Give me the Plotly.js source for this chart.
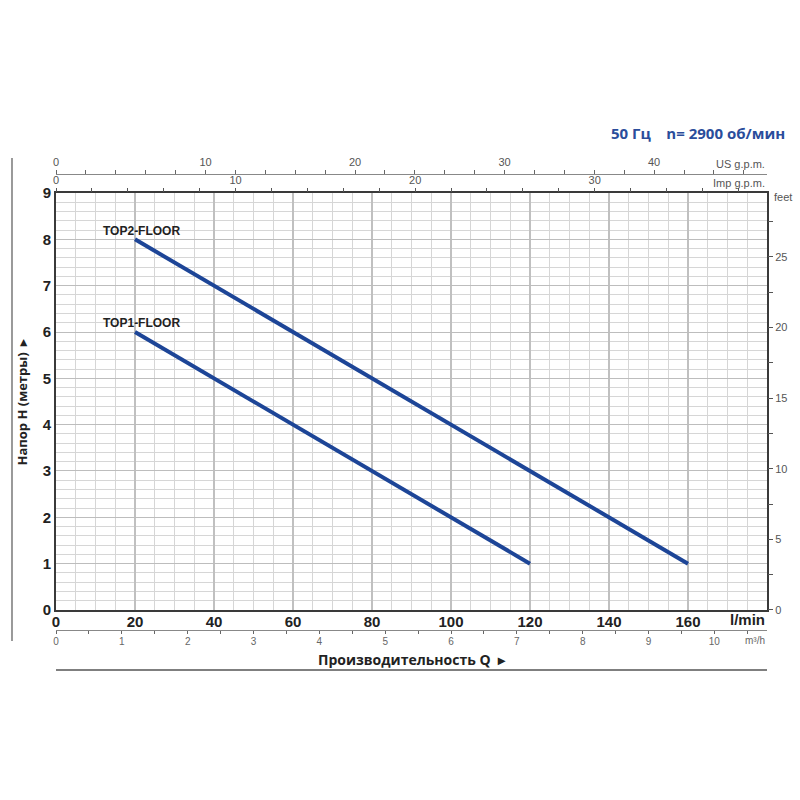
<!DOCTYPE html>
<html>
<head>
<meta charset="utf-8">
<script src="https://cdn.plot.ly/plotly-3.0.1.min.js"></script>
<style>html,body{margin:0;padding:0;background:#fff}#chart{width:800px;height:800px}</style>
</head>
<body>
<div id="chart"></div>
<script>
// ---- data ----
const seriesNames = ["TOP2-FLOOR", "TOP1-FLOOR"];
const top2Q = [20, 160];   // l/min
const top2H = [8, 1];      // m
const top1Q = [20, 120];
const top1H = [6, 1];
const qTicks = [0, 20, 40, 60, 80, 100, 120, 140, 160];
const hTicks = [0, 1, 2, 3, 4, 5, 6, 7, 8, 9];
const qMax = 180, hMax = 9;
const labelPos = [[11.4, 8.17], [11.4, 6.19]];

// ---- conversions ----
const US_GPM = 3.78541, IMP_GPM = 4.54609, M3H = 0.06, FT = 0.3048;

const narrow = "Liberation Sans Narrow, Arial Narrow, Liberation Sans, Arial, sans-serif";
const blue = "#1d4597";

const traces = [
  {x: top2Q, y: top2H, name: seriesNames[0], mode: "lines", line: {color: blue, width: 4}, hoverinfo: "skip"},
  {x: top1Q, y: top1H, name: seriesNames[1], mode: "lines", line: {color: blue, width: 4}, hoverinfo: "skip"},
  {x: [], y: [], xaxis: "x2", yaxis: "y", hoverinfo: "skip"},
  {x: [], y: [], xaxis: "x3", yaxis: "y", hoverinfo: "skip"},
  {x: [], y: [], xaxis: "x4", yaxis: "y", hoverinfo: "skip"},
  {x: [], y: [], xaxis: "x", yaxis: "y2", hoverinfo: "skip"}
];

const smallFont = {family: narrow, size: 11, color: "#555"};

const layout = {
  width: 800, height: 800,
  margin: {l: 56, r: 33, t: 174, b: 170},
  paper_bgcolor: "#fff", plot_bgcolor: "#fff",
  showlegend: false,
  xaxis: {
    range: [0, qMax], domain: [0, 1], anchor: "y",
    tickmode: "array", tickvals: qTicks, ticktext: qTicks.map(String),
    ticks: "", ticklabelstandoff: -3,
    showline: true, mirror: true, linecolor: "#3a3a3a", linewidth: 2,
    showgrid: true, gridcolor: "#c0c0c0", gridwidth: 2,
    minor: {dtick: 5, tick0: 0, showgrid: true, gridcolor: "#d6d6d6", gridwidth: 1},
    tickfont: {family: narrow, size: 15, color: "#222", weight: "bold"},
    zeroline: false, fixedrange: true
  },
  yaxis: {
    range: [0, hMax], domain: [0.0439, 0.9583], anchor: "x",
    tickmode: "array", tickvals: hTicks, ticktext: hTicks.map(String),
    ticks: "", showline: true, mirror: true, linecolor: "#3a3a3a", linewidth: 2,
    showgrid: true, gridcolor: "#bdbdbd", gridwidth: 1,
    minor: {dtick: 0.2, tick0: 0, showgrid: true, gridcolor: "#d6d6d6", gridwidth: 1},
    tickfont: {family: narrow, size: 15, color: "#222", weight: "bold"},
    zeroline: false, fixedrange: true
  },
  xaxis2: { // Imp g.p.m.
    range: [0, qMax / IMP_GPM], overlaying: "x", anchor: "y", side: "top",
    dtick: 10, tick0: 0, ticks: "outside", ticklen: 4, tickcolor: "#555",
    minor: {dtick: 2, ticks: "outside", ticklen: 4, tickcolor: "#555"},
    showline: false, showgrid: false, zeroline: false,
    tickfont: smallFont, fixedrange: true
  },
  xaxis3: { // US g.p.m.
    range: [0, qMax / US_GPM], overlaying: "x", anchor: "free", position: 1, side: "top",
    dtick: 10, tick0: 0, ticks: "outside", ticklen: 4, tickcolor: "#666",
    minor: {dtick: 2, ticks: "outside", ticklen: 4, tickcolor: "#666"},
    showline: true, linecolor: "#888", linewidth: 1, showgrid: false, zeroline: false,
    tickfont: smallFont, fixedrange: true
  },
  xaxis4: { // m3/h
    range: [0, qMax * M3H], overlaying: "x", anchor: "free", position: 0, side: "bottom",
    dtick: 1, tick0: 0, ticks: "outside", ticklen: 3, tickcolor: "#666", ticklabelstandoff: -1,
    minor: {dtick: 0.5, ticks: "outside", ticklen: 3, tickcolor: "#666"},
    showline: true, linecolor: "#888", linewidth: 1, showgrid: false, zeroline: false,
    tickfont: {family: narrow, size: 10, color: "#666"}, fixedrange: true
  },
  yaxis2: { // feet
    range: [0, hMax / FT], overlaying: "y", anchor: "x", side: "right",
    dtick: 5, tick0: 0, ticks: "outside", ticklen: 5, tickcolor: "#555",
    minor: {dtick: 2.5, ticks: "outside", ticklen: 5, tickcolor: "#555"},
    showline: false, showgrid: false, zeroline: false,
    tickfont: smallFont, fixedrange: true
  },
  shapes: [
    {type: "line", xref: "paper", yref: "paper", x0: 0, x1: 1, y0: -0.0877, y1: -0.0877,
     line: {color: "#555", width: 1.5}},
    {type: "line", xref: "paper", yref: "paper", x0: -0.0619, x1: -0.0619, y0: 1.035, y1: -0.024,
     line: {color: "#999", width: 2}}
  ],
  annotations: [
    {text: "50 Гц&nbsp;&nbsp;&nbsp;&nbsp;n= 2900 об/мин", xref: "paper", yref: "paper", x: 1.028, y: 1.09,
     xanchor: "right", yanchor: "middle", showarrow: false,
     font: {family: "Open Sans, sans-serif", size: 15, color: "#2a4d9b", weight: "bold"}},
    {text: "US g.p.m.", xref: "paper", yref: "paper", x: 1, y: 1, yshift: 10, xanchor: "right", yanchor: "middle",
     showarrow: false, font: smallFont},
    {text: "Imp g.p.m.", xref: "paper", yref: "paper", x: 1, y: 0.9583, yshift: 10, xanchor: "right", yanchor: "middle",
     showarrow: false, font: smallFont},
    {text: "feet", xref: "paper", yref: "paper", x: 1, xshift: 5, y: 0.9583, yshift: -4, xanchor: "left", yanchor: "middle",
     showarrow: false, font: smallFont},
    {text: "l/min", xref: "paper", yref: "paper", x: 1, y: 0.0439, yshift: -10, xanchor: "right", yanchor: "middle",
     showarrow: false, font: {family: narrow, size: 15, color: "#222", weight: "bold"}},
    {text: "m³/h", xref: "paper", yref: "paper", x: 1, y: 0, yshift: -10, xanchor: "right", yanchor: "middle",
     showarrow: false, font: {family: narrow, size: 10, color: "#666"}},
    {text: "Производительность Q&nbsp;&nbsp;▸", xref: "paper", yref: "paper", x: 0.5, y: -0.0877, yshift: 10,
     xanchor: "center", yanchor: "middle", showarrow: false,
     font: {family: "Open Sans, sans-serif", size: 14, color: "#222", weight: "bold"}},
    {text: "Напор H (метры)&nbsp;&nbsp;▸", xref: "paper", yref: "y", x: 0, xshift: -34, y: hMax / 2,
     textangle: -90, xanchor: "center", yanchor: "middle", showarrow: false,
     font: {family: "Open Sans, sans-serif", size: 13, color: "#222", weight: "bold"}},
    {text: seriesNames[0], xref: "x", yref: "y", x: labelPos[0][0], y: labelPos[0][1], xanchor: "left", yanchor: "middle",
     showarrow: false, font: {family: narrow, size: 12, color: "#222", weight: "bold"}},
    {text: seriesNames[1], xref: "x", yref: "y", x: labelPos[1][0], y: labelPos[1][1], xanchor: "left", yanchor: "middle",
     showarrow: false, font: {family: narrow, size: 12, color: "#222", weight: "bold"}}
  ]
};

Plotly.newPlot("chart", traces, layout, {staticPlot: true, displayModeBar: false});
</script>
</body>
</html>
